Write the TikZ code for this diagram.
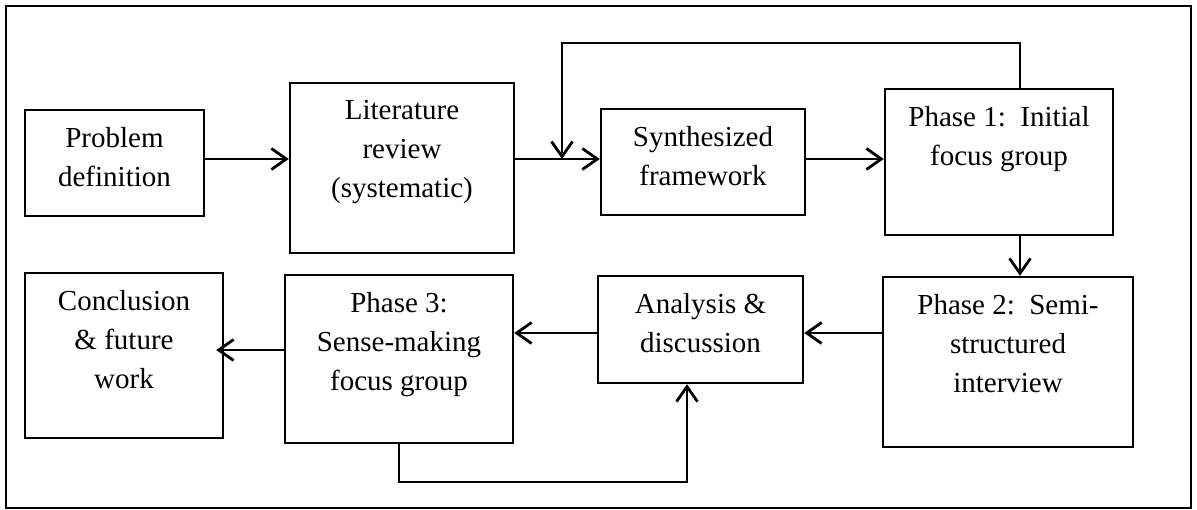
\documentclass[tikz,border=0pt]{standalone}
\usepackage{fontspec}
\setmainfont{Liberation Serif}
\usetikzlibrary{arrows.meta}

\tikzset{
  stagebox/.style={draw, line width=2.4pt, rectangle, inner sep=0pt},
  stagetext/.style={anchor=north, inner sep=0pt, align=center,
    font=\fontsize{29}{39}\selectfont, yshift=-18pt},
  flow/.style={line width=2.8pt, -{Straight Barb[length=15pt,width=21pt]}},
  plainline/.style={line width=2.8pt}
}

\begin{document}
\begin{tikzpicture}[x=1pt,y=-1pt]
\useasboundingbox (0,0) rectangle (1197,510);
\draw[line width=2.8pt] (6,6) rectangle (1191,508);

% stage boxes
\node[stagebox, minimum width=179pt, minimum height=106pt] (prob)  at (114.5,163) {};
\node[stagebox, minimum width=224pt, minimum height=170pt] (lit)   at (402,168) {};
\node[stagebox, minimum width=204pt, minimum height=106pt] (synth) at (703,162) {};
\node[stagebox, minimum width=228pt, minimum height=146pt] (ph1)   at (999,162) {};
\node[stagebox, minimum width=250pt, minimum height=170pt] (ph2)   at (1008,362) {};
\node[stagebox, minimum width=205pt, minimum height=107pt] (ana)   at (700.5,329.5) {};
\node[stagebox, minimum width=228pt, minimum height=168pt] (ph3)   at (399,359) {};
\node[stagebox, minimum width=198pt, minimum height=165pt] (conc)  at (124,355.5) {};

% box labels, set from the top of each box
\node[stagetext] (prob-t)  at (prob.north)  {Problem\\definition};
\node[stagetext] (lit-t)   at (lit.north)   {Literature\\review\\(systematic)};
\node[stagetext] (synth-t) at (synth.north) {Synthesized\\framework};
\node[stagetext] (ph1-t)   at (ph1.north)   {Phase 1:\ \ Initial\\focus group};
\node[stagetext] (ph2-t)   at (ph2.north)   {Phase 2:\ \ Semi-\\structured\\interview};
\node[stagetext] (ana-t)   at (ana.north)   {Analysis \&\\discussion};
\node[stagetext] (ph3-t)   at (ph3.north)   {Phase 3:\\Sense-making\\focus group};
\node[stagetext] (conc-t)  at (conc.north)  {Conclusion\\\& future\\work};

% reference levels for the connectors
\coordinate (row1) at (0,159);
\coordinate (row2) at (0,333);
\coordinate (row3) at (0,350);
\coordinate (loopx) at (1020,0);
\coordinate (looptop) at (0,43);
\coordinate (join) at (562,159);
\coordinate (backx) at (687,0);
\coordinate (backlow) at (0,482);

% top row
\draw[flow] (prob.east |- row1) -- (lit.west |- row1);
\draw[flow] (lit.east |- row1) -- (synth.west |- row1);
\draw[flow] (synth.east |- row1) -- (ph1.west |- row1);
\draw[flow] (ph1.north -| loopx) |- (join |- looptop) -- (join);

% down to the second row
\draw[flow] (ph1.south -| loopx) -- (ph2.north -| loopx);

% bottom row
\draw[flow] (ph2.west |- row2) -- (ana.east |- row2);
\draw[flow] (ana.west |- row2) -- (ph3.east |- row2);
\draw[flow, shorten >=-8pt] (ph3.west |- row3) -- (conc.east |- row3);
\draw[flow] (ph3.south) |- (backx |- backlow) -- (ana.south -| backx);
\end{tikzpicture}
\end{document}
